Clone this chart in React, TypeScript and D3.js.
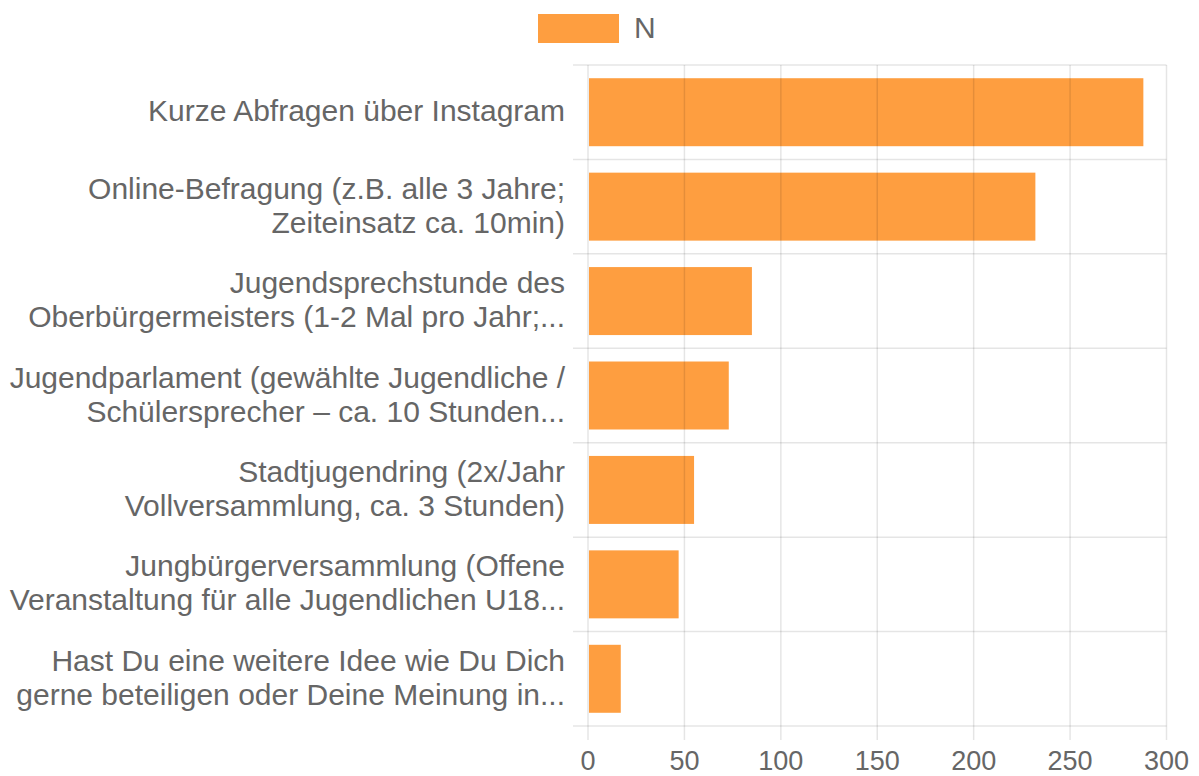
import { useEffect, useRef } from 'react';
import * as d3 from 'd3';

// Categories (as shown, already wrapped/truncated by the original chart)
const categories = [
  'Kurze Abfragen über Instagram',
  'Online-Befragung (z.B. alle 3 Jahre; Zeiteinsatz ca. 10min)',
  'Jugendsprechstunde des Oberbürgermeisters (1-2 Mal pro Jahr;...',
  'Jugendparlament (gewählte Jugendliche / Schülersprecher – ca. 10 Stunden...',
  'Stadtjugendring (2x/Jahr Vollversammlung, ca. 3 Stunden)',
  'Jungbürgerversammlung (Offene Veranstaltung für alle Jugendlichen U18...',
  'Hast Du eine weitere Idee wie Du Dich gerne beteiligen oder Deine Meinung in...',
];
const labelLines = [
  ['Kurze Abfragen über Instagram'],
  ['Online-Befragung (z.B. alle 3 Jahre;', 'Zeiteinsatz ca. 10min)'],
  ['Jugendsprechstunde des', 'Oberbürgermeisters (1-2 Mal pro Jahr;...'],
  ['Jugendparlament (gewählte Jugendliche /', 'Schülersprecher – ca. 10 Stunden...'],
  ['Stadtjugendring (2x/Jahr', 'Vollversammlung, ca. 3 Stunden)'],
  ['Jungbürgerversammlung (Offene', 'Veranstaltung für alle Jugendlichen U18...'],
  ['Hast Du eine weitere Idee wie Du Dich', 'gerne beteiligen oder Deine Meinung in...'],
];
const values = [288, 232, 85, 73, 55, 47, 17];
const xTicks = [0, 50, 100, 150, 200, 250, 300];
const seriesName = 'N';

function App() {
  const ref = useRef<SVGSVGElement>(null);
  const width = 1199;
  const height = 776;

  useEffect(() => {
    const svg = d3.select(ref.current);
    svg.selectAll('*').remove();

    const font = '"Liberation Sans", Arial, Helvetica, sans-serif';
    const textColor = '#666';
    const gridColor = 'rgba(0,0,0,0.1)';
    const labelSize = 30;
    const tickSize = 27;

    const x = d3.scaleLinear().domain([0, 300]).range([588, 1166.5]);
    const y = d3.scaleBand().domain(categories).range([65, 726]).padding(0);
    const barH = y.bandwidth() * 0.72;

    // Bars
    svg.append('g')
      .selectAll('rect')
      .data(values)
      .join('rect')
      .attr('x', x(0) + 1)
      .attr('y', (_, i) => (y(categories[i]) as number) + (y.bandwidth() - barH) / 2)
      .attr('width', (d) => x(d) - x(0) - 1)
      .attr('height', barH)
      .attr('fill', '#fe9e40');

    // Grid (drawn over the bars, faint)
    const grid = svg.append('g').attr('stroke', gridColor).attr('stroke-width', 1.5);
    grid.selectAll('line.v')
      .data(xTicks)
      .join('line')
      .attr('class', 'v')
      .attr('x1', (d) => x(d)).attr('x2', (d) => x(d))
      .attr('y1', 65).attr('y2', 740);
    const hLines = categories.map((c) => y(c) as number).concat([726]);
    grid.selectAll('line.h')
      .data(hLines)
      .join('line')
      .attr('class', 'h')
      .attr('x1', 573).attr('x2', x(300))
      .attr('y1', (d) => d).attr('y2', (d) => d);

    // X tick labels
    svg.append('g')
      .selectAll('text')
      .data(xTicks)
      .join('text')
      .attr('x', (d) => x(d))
      .attr('y', 770)
      .attr('text-anchor', 'middle')
      .attr('font-family', font)
      .attr('font-size', tickSize)
      .attr('fill', textColor)
      .text((d) => d);

    // Y category labels
    const lab = svg.append('g')
      .selectAll('text')
      .data(labelLines)
      .join('text')
      .attr('text-anchor', 'end')
      .attr('font-family', font)
      .attr('font-size', labelSize)
      .attr('fill', textColor)
      .attr('transform', (_, i) => `translate(565, ${(y(categories[i]) as number) + y.bandwidth() / 2})`);
    lab.selectAll('tspan')
      .data((d) => d.map((t, j) => ({ t, dy: (j - (d.length - 1) / 2) * 34 })))
      .join('tspan')
      .attr('x', 0)
      .attr('y', (d) => d.dy + 9)
      .text((d) => d.t);

    // Legend
    svg.append('rect')
      .attr('x', 538).attr('y', 14)
      .attr('width', 81).attr('height', 29)
      .attr('fill', '#fe9e40');
    svg.append('text')
      .attr('x', 634).attr('y', 38)
      .attr('font-family', font)
      .attr('font-size', labelSize)
      .attr('fill', textColor)
      .text(seriesName);
  }, []);

  return (
    <div>
      <svg
        ref={ref}
        width={width}
        height={height}
        style={{ position: 'absolute', left: 0, top: 0, background: '#fff' }}
      />
    </div>
  );
}

export default App;
